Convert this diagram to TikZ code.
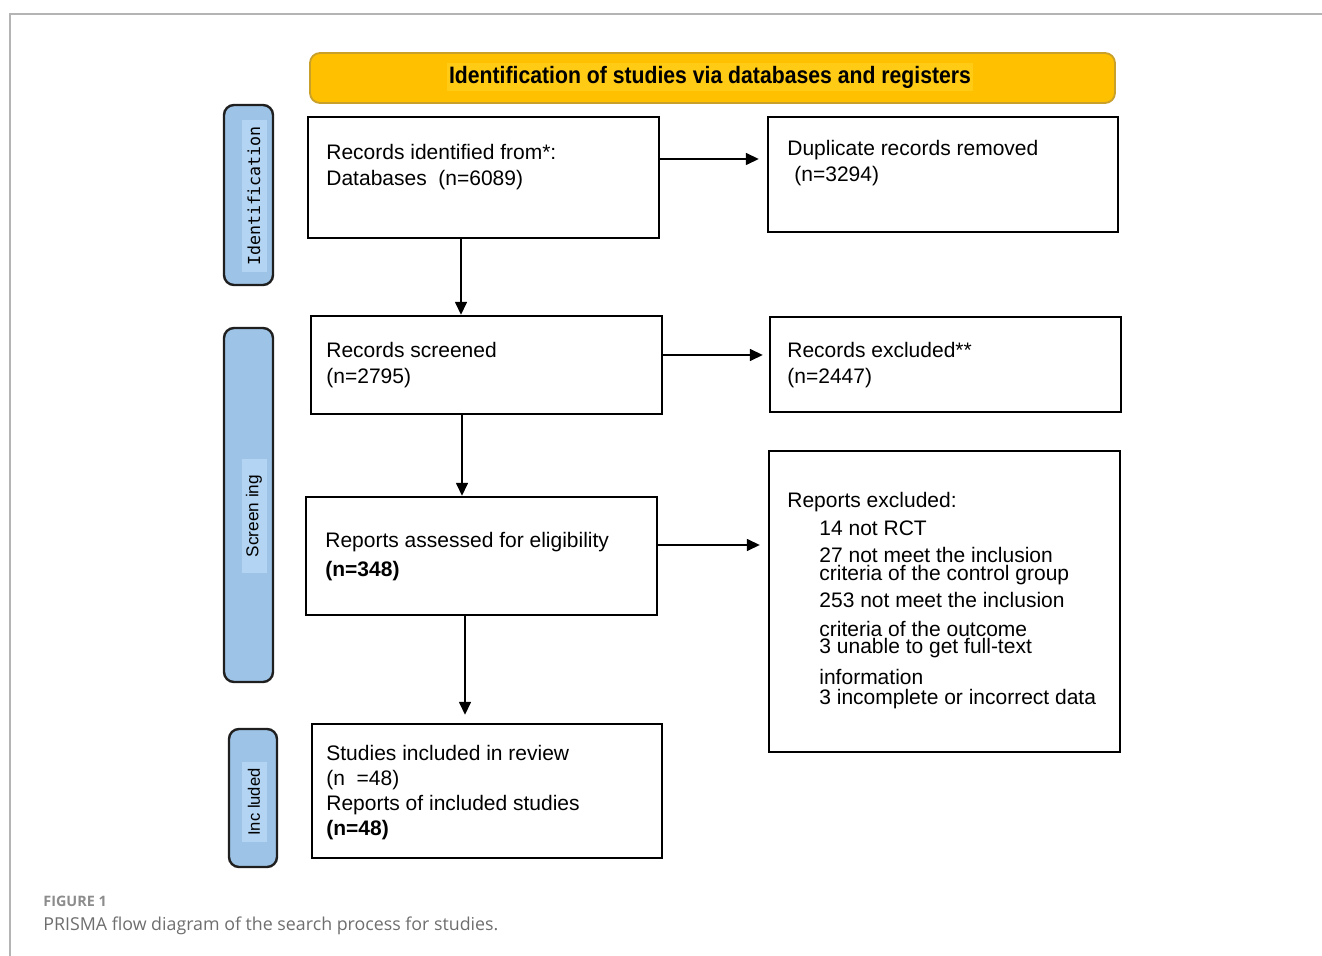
\documentclass[tikz,border=0pt]{standalone}
\usepackage{fontspec}
\setmainfont{Liberation Sans}
\newfontfamily\labmono{DejaVu Sans Mono}
\newfontfamily\capfont{Open Sans}
\usetikzlibrary{arrows.meta,fit}
\definecolor{hdrfill}{HTML}{FFC000}
\definecolor{hdrdraw}{HTML}{C8A02A}
\definecolor{hdrtext}{HTML}{FFCB14}
\definecolor{sidefill}{HTML}{9DC3E6}
\definecolor{sidelite}{HTML}{B3D4F2}
\definecolor{framegray}{HTML}{B4B4B4}
\definecolor{capgray}{HTML}{6E6E6E}
\definecolor{figgray}{HTML}{8C8C8C}

\begin{document}
\begin{tikzpicture}[x=0.5pt,y=-0.5pt,
  box/.style={draw=black,line width=1.2pt,inner sep=0pt},
  side/.style={draw=black!88,fill=sidefill,line width=1.2pt,rounded corners=5pt,inner sep=0pt},
  sidetxt/.style={fill=sidelite,rotate=90,inner xsep=3pt,inner ysep=0pt,minimum height=12.5pt},
  % multi-line nodes: the base anchor sits on the last line's baseline
  txt/.style={anchor=base west,align=left,inner sep=0pt,font=\fontsize{10.5}{13}\selectfont},
  arr/.style={line width=0.75pt,-{Triangle[length=6.5pt,width=6pt]}},
]
\useasboundingbox (0,0) rectangle (1322,956);

% page frame
\draw[framegray,line width=0.75pt] (1322,14) -- (10,14) -- (10,956);

% header banner
\node[draw=hdrdraw,fill=hdrfill,line width=0.9pt,rounded corners=5pt,inner sep=0pt,
      fit={(310,53)(1115,103)}] (hdr) {};
\node[fill=hdrtext,inner xsep=1pt,inner ysep=1.5pt,font=\bfseries\fontsize{10.6}{12}\selectfont]
      (hdrtxt) at (710,77) {\scalebox{1}[1.12]{Identification of studies via databases and registers}};

% phase labels
\node[side,fit={(224,105)(273,285)}] (sideid) {};
\node[sidetxt,font=\labmono\fontsize{8.3}{10}\selectfont] (sideidtxt) at (254,196) {Identification};
\node[side,fit={(224,328)(273,682)}] (sidescr) {};
\node[sidetxt,font=\fontsize{8.6}{10}\selectfont,inner xsep=8pt] (sidescrtxt) at (254,516) {Screen ing};
\node[side,fit={(229,729)(277,867)}] (sideinc) {};
\node[sidetxt,font=\fontsize{8.3}{10}\selectfont] (sideinctxt) at (254,802) {Inc luded};

% boxes
\node[box,fit={(308,117)(659,238)}] (recid) {};
\node[box,fit={(768,117)(1118,232)}] (dup) {};
\node[box,fit={(311,316)(662,414)}] (screened) {};
\node[box,fit={(770,317)(1121,412)}] (recexcl) {};
\node[box,fit={(306,497)(657,615)}] (assessed) {};
\node[box,fit={(769,451)(1120,752)}] (repexcl) {};
\node[box,fit={(312,724)(662,858)}] (included) {};

% box texts (placed at the baseline of their last line)
\node[txt] (recidtxt) at (326,186) {Records identified from*:\\Databases\ \ (n=6089)};
\node[txt] (duptxt) at (787,182) {Duplicate records removed\\\hspace*{3.5pt}(n=3294)};
\node[txt] (screenedtxt) at (326,384) {Records screened\\(n=2795)};
\node[txt] (recexcltxt) at (787,384) {Records excluded**\\(n=2447)};
\node[txt] (assessedtxt) at (325,576) {Reports assessed for eligibility\\[1pt]\textbf{(n=348)}};
\node[txt] (repexcltxt) at (787,704) {Reports excluded:\\[1pt]
  \hspace*{16pt}14 not RCT\\[0.5pt]
  \hspace*{16pt}27 not meet the inclusion\\[-4pt]
  \hspace*{16pt}criteria of the control group\\[1pt]
  \hspace*{16pt}253 not meet the inclusion\\[1pt]
  \hspace*{16pt}criteria of the outcome\\[-4pt]
  \hspace*{16pt}3 unable to get full-text\\[2.5pt]
  \hspace*{16pt}information\\[-3.5pt]
  \hspace*{16pt}3 incomplete or incorrect data};
\node[txt,font=\fontsize{10.5}{12.5}\selectfont] (includedtxt) at (326,835)
  {Studies included in review\\(n\ \ =48)\\Reports of included studies\\\textbf{(n=48)}};

% connectors
\draw[arr,shorten >=4pt] (recid.east |- 0,159) -- (dup.west |- 0,159);
\draw[arr,shorten >=3pt] (screened.east |- 0,355) -- (recexcl.west |- 0,355);
\draw[arr,shorten >=4pt] (assessed.east |- 0,545) -- (repexcl.west |- 0,545);
\draw[arr] (recid.south -| 461,0) -- (screened.north -| 461,0);
\draw[arr] (screened.south -| 462,0) -- (assessed.north -| 462,0);
\draw[arr,shorten >=4pt] (assessed.south -| 465,0) -- (included.north -| 465,0);

% caption
\node[anchor=base west,inner sep=0pt,text=figgray,font=\capfont\bfseries\fontsize{7.2}{9}\selectfont]
  (figlabel) at (43,906) {FIGURE 1};
\node[anchor=base west,inner sep=0pt,text=capgray,font=\capfont\fontsize{8.9}{11}\selectfont]
  (caption) at (43,930) {PRISMA flow diagram of the search process for studies.};
\end{tikzpicture}
\end{document}
